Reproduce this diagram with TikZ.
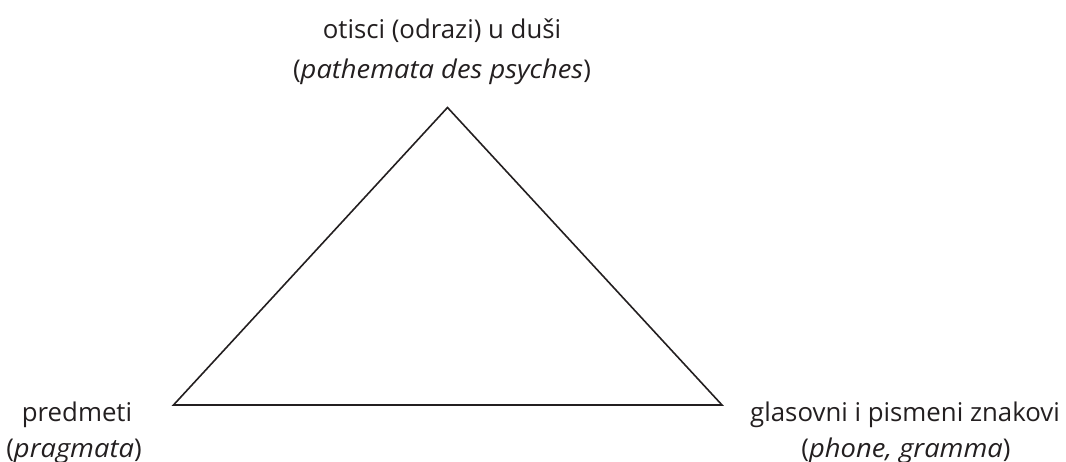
\documentclass[tikz,border=0pt]{standalone}
\usepackage{fontspec}
\setmainfont{Open Sans}[ItalicFeatures={FakeStretch=1.06}]
\definecolor{ink}{HTML}{231F20}
\begin{document}
\begin{tikzpicture}[x=1pt,y=-1pt,
  lbl/.style={anchor=base,font=\fontsize{25.8}{37}\selectfont,inner sep=0pt,text=ink},
  edge/.style={line width=1.6pt,line join=miter,draw=ink}]
\useasboundingbox (0,0) rectangle (1066,461);
\coordinate (top) at (447.5,107.5);
\coordinate (left) at (173.5,405);
\coordinate (right) at (722,405);
\draw[edge] (top) -- (left) -- (right) -- cycle;
\node[lbl] (tt1) at (442,38) {otisci (odrazi) u duši};
\node[lbl] (tt2) at (442,78) {(\textit{pathemata des psyches})};
\node[lbl] (lt1) at (77,421) {predmeti};
\node[lbl] (lt2) at (74,457) {(\textit{pragmata})};
\node[lbl] (rt1) at (905,421) {glasovni i pismeni znakovi};
\node[lbl] (rt2) at (906,457) {(\textit{phone, gramma})};
\end{tikzpicture}
\end{document}
